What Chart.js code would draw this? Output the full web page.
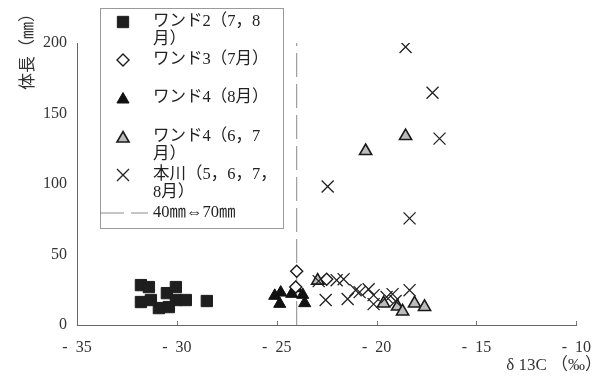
<!DOCTYPE html>
<html><head><meta charset="utf-8">
<script src="https://cdn.jsdelivr.net/npm/chart.js"></script>
<style>html,body{margin:0;padding:0;background:#fff}#wrap{width:604px;height:380px;position:relative}</style>
</head><body><div id="wrap"><canvas id="c" width="604" height="380"></canvas></div>
<script>
// ---- data ----
const xRange = [-35, -10];
const yRange = [0, 200];
const seriesNames = ['ワンド2（7，8月）', 'ワンド3（7月）', 'ワンド4（8月）', 'ワンド4（6，7月）', '本川（5，6，7，8月）', '40㎜⇔70㎜'];
const wand2X = [-31.8, -31.4, -31.8, -31.3, -30.9, -30.5, -30.05, -30.05, -29.55, -30.4, -28.5];
const wand2Y = [28.3, 26.9, 16.3, 17.7, 12.0, 22.6, 26.9, 17.7, 17.7, 12.7, 17.0];
const wand3X = [-24.0, -24.05, -22.5];
const wand3Y = [38.2, 27.0, 32.5];
const wand4AugX = [-25.1, -24.8, -24.85, -24.25, -24.05, -23.7, -23.6];
const wand4AugY = [20.7, 23.0, 15.0, 22.1, 26.1, 21.4, 15.5];
const wand4JunJulX = [-20.55, -18.55, -22.95, -19.65, -18.95, -18.7, -18.1, -17.6];
const wand4JunJulY = [123.4, 134.0, 31.5, 15.3, 13.1, 9.6, 15.3, 12.8];
const honkawaX = [-18.55, -17.2, -16.85, -22.45, -18.35, -22.9, -22.0, -21.65, -22.55, -21.45, -21.05, -20.85, -20.4, -20.15, -20.15, -19.5, -19.2, -19.05, -18.35];
const honkawaY = [197.2, 164.7, 132.2, 98.2, 75.6, 31.1, 31.8, 32.5, 17.7, 18.4, 24.7, 23.3, 25.4, 21.2, 14.8, 19.8, 21.9, 17.0, 24.7];
const boundaryX = [-24, -24];
const boundaryY = [0, 200];
const legendLines = [['ワンド2（7，8', '月）'], ['ワンド3（7月）'], ['ワンド4（8月）'], ['ワンド4（6，7', '月）'], ['本川（5，6，7，', '8月）'], ['40㎜⇔70㎜']];

const pts = (xs, ys) => xs.map((x, i) => ({x: x, y: ys[i]}));
const SERIF = "'Liberation Serif', 'Noto Sans CJK JP', serif";
const DASH = [24, 7];

const datasets = [
  {label: seriesNames[0], data: pts(wand2X, wand2Y), pointStyle: 'rect', pointRadius: 8, backgroundColor: '#1e1e1e', borderColor: '#1e1e1e', borderWidth: 1, order: 5},
  {label: seriesNames[1], data: pts(wand3X, wand3Y), pointStyle: 'rectRot', pointRadius: 6, backgroundColor: '#ffffff', borderColor: '#1a1a1a', borderWidth: 1.4, order: 3},
  {label: seriesNames[2], data: pts(wand4AugX, wand4AugY), pointStyle: 'triangle', pointRadius: 7, backgroundColor: '#111111', borderColor: '#111111', borderWidth: 1, order: 4},
  {label: seriesNames[3], data: pts(wand4JunJulX, wand4JunJulY), pointStyle: 'triangle', pointRadius: 7, backgroundColor: '#bcbcbc', borderColor: '#1a1a1a', borderWidth: 1.6, order: 2},
  {label: seriesNames[4], data: pts(honkawaX, honkawaY), pointStyle: 'crossRot', pointRadius: 8.5, backgroundColor: '#222', borderColor: '#222', borderWidth: 1.3, order: 1},
  {label: seriesNames[5], data: pts(boundaryX, boundaryY), showLine: true, pointRadius: 0, borderColor: '#8a8a8a', borderWidth: 1, borderDash: DASH, order: 6}
];

function drawMarker(ctx, ds, x, y) {
  ctx.save();
  ctx.fillStyle = ds.backgroundColor || '#000';
  ctx.strokeStyle = ds.borderColor;
  ctx.lineWidth = ds.borderWidth;
  if (ds.showLine) {
    ctx.setLineDash(ds.borderDash);
    ctx.beginPath(); ctx.moveTo(100, y); ctx.lineTo(148, y); ctx.stroke();
  } else if (Chart.helpers && Chart.helpers.drawPoint) {
    Chart.helpers.drawPoint(ctx, {pointStyle: ds.pointStyle, radius: ds.pointRadius, rotation: 0, borderWidth: ds.borderWidth}, x, y);
  }
  ctx.restore();
}

const overlay = {
  id: 'overlay',
  afterDraw(chart) {
    const ctx = chart.ctx;
    const xs = chart.scales.x;
    const area = chart.chartArea;
    ctx.save();
    // inward tick marks on x axis
    ctx.strokeStyle = '#777'; ctx.lineWidth = 1;
    xs.ticks.forEach(t => {
      if (t.value === xRange[0]) return;
      const px = Math.round(xs.getPixelForValue(t.value)) + 0.5;
      ctx.beginPath(); ctx.moveTo(px, area.bottom); ctx.lineTo(px, area.bottom - 4); ctx.stroke();
    });
    // legend box
    ctx.fillStyle = '#fff';
    ctx.fillRect(100, 8, 183, 220);
    ctx.strokeStyle = '#9a9a9a';
    ctx.strokeRect(100.5, 8.5, 183, 220);
    const rowsY = [22, 60, 98, 137, 175, 213];
    ctx.font = '16.5px ' + SERIF;
    ctx.textBaseline = 'middle';
    ctx.textAlign = 'left';
    chart.data.datasets.forEach((ds, i) => {
      drawMarker(ctx, ds, 123, rowsY[i] + (ds.pointStyle === 'triangle' ? 1.5 : 0));
      ctx.fillStyle = '#222';
      legendLines[i].forEach((line, k) => ctx.fillText(line, 153, rowsY[i] + k * 18));
    });
    // axis titles
    ctx.fillStyle = '#333';
    ctx.font = '17px ' + SERIF;
    ctx.textAlign = 'right';
    ctx.fillText('δ 13C （‰）', 602, 366);
    ctx.translate(29, 90);
    ctx.rotate(-Math.PI / 2);
    ctx.textAlign = 'left';
    ctx.font = '17px ' + SERIF;
    ctx.fillText('体長（㎜）', 0, 0);
    ctx.restore();
  }
};

new Chart(document.getElementById('c'), {
  type: 'scatter',
  data: {datasets: datasets},
  options: {
    responsive: false,
    devicePixelRatio: 1,
    animation: false,
    layout: {padding: {left: 0, top: 43, right: 22, bottom: 0}},
    plugins: {legend: {display: false}, tooltip: {enabled: false}},
    scales: {
      x: {
        type: 'linear', min: xRange[0], max: xRange[1],
        grid: {display: false, drawTicks: false},
        border: {display: true, color: '#666', width: 1},
        ticks: {stepSize: 5, padding: 13, color: '#333', font: {family: SERIF, size: 16},
          callback: v => (v < 0 ? '-  ' + Math.abs(v) : String(v))},
        afterFit: s => { s.height = 55; }
      },
      y: {
        type: 'linear', min: yRange[0], max: yRange[1],
        grid: {display: false, drawTicks: false},
        border: {display: true, color: '#666', width: 1},
        ticks: {stepSize: 50, padding: 10, color: '#333', font: {family: SERIF, size: 16}},
        afterFit: s => { s.width = 77; }
      }
    }
  },
  plugins: [overlay]
});
</script>
</body></html>
